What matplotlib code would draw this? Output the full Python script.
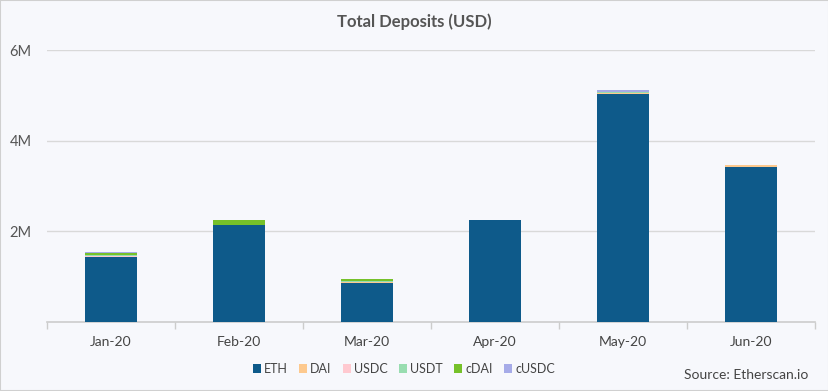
import matplotlib
matplotlib.use("Agg")
import matplotlib.pyplot as plt
import numpy as np
from matplotlib.patches import Rectangle

months = ["Jan-20", "Feb-20", "Mar-20", "Apr-20", "May-20", "Jun-20"]
series_names = ["ETH", "DAI", "USDC", "USDT", "cDAI", "cUSDC"]
eth = [1.43, 2.13, 0.86, 2.25, 5.03, 3.43]
dai = [0.01, 0.02, 0.02, 0.0, 0.02, 0.04]
usdc = [0.02, 0.0, 0.0, 0.0, 0.0, 0.0]
usdt = [0.02, 0.0, 0.02, 0.0, 0.03, 0.0]
cdai = [0.04, 0.09, 0.05, 0.0, 0.0, 0.0]
cusdc = [0.02, 0.0, 0.0, 0.0, 0.04, 0.0]
colors = ["#0e5a8a", "#fdc98e", "#ffc9d0", "#98ddb0", "#76c12a", "#a6abe8"]
y_ticks = [2, 4, 6]
y_labels = ["2M", "4M", "6M"]

plt.rcParams['font.family'] = ['Lato', 'DejaVu Sans']
bg = "#f7f8fc"
fig = plt.figure(figsize=(8.29, 3.91), dpi=100, facecolor=bg)
fig.patches.append(Rectangle((0, 0), 1, 1, transform=fig.transFigure, fill=False,
                             edgecolor="#d0d0d0", linewidth=1.5))
ax = fig.add_axes([47/829, (391-322)/391, (815-47)/829, (322-50)/391])
ax.set_facecolor(bg)

x = np.arange(len(months))
data = [eth, dai, usdc, usdt, cdai, cusdc]
bottom = np.zeros(len(months))
for name, vals, c in zip(series_names, data, colors):
    v = np.array(vals)
    ax.bar(x, v, bottom=bottom, width=0.4, color=c, label=name, zorder=3)
    bottom += v

ax.set_xlim(-0.5, len(months) - 0.5)
ax.set_ylim(0, 6)
ax.set_yticks(y_ticks)
ax.set_yticklabels(y_labels, color="#555555", fontsize=10.5)
ax.yaxis.grid(True, color="#d9d9d9", linewidth=1, zorder=0)
ax.tick_params(axis='y', length=0, pad=27)
for lab in ax.get_yticklabels():
    lab.set_horizontalalignment('left')
ax.set_xticks(x)
ax.set_xticklabels(months, color="#444444", fontsize=10)
ax.tick_params(axis='x', length=0, pad=10)
ax.set_xticks(np.arange(len(months) + 1) - 0.5, minor=True)
ax.tick_params(axis='x', which='minor', length=5, color="#cccccc", width=1)
for s in ["top", "right", "left"]:
    ax.spines[s].set_visible(False)
ax.spines["bottom"].set_color("#cccccc")
ax.spines["bottom"].set_linewidth(1.2)

fig.text(0.5, 1 - 22/391, "Total Deposits (USD)", ha="center", va="center",
         fontsize=12, fontweight="bold", color="#555555")

leg = fig.legend(loc="center", bbox_to_anchor=(404/829, 1 - 369/391), ncol=6,
                 frameon=False, fontsize=9, handlelength=0.65, handleheight=0.65,
                 handletextpad=0.25, columnspacing=0.9)
for t in leg.get_texts():
    t.set_color("#444444")
fig.text(808/829, 1 - 375/391, "Source: Etherscan.io", ha="right", va="center",
         fontsize=10, color="#444444")

fig.savefig("out.png", dpi=100, facecolor=bg)
